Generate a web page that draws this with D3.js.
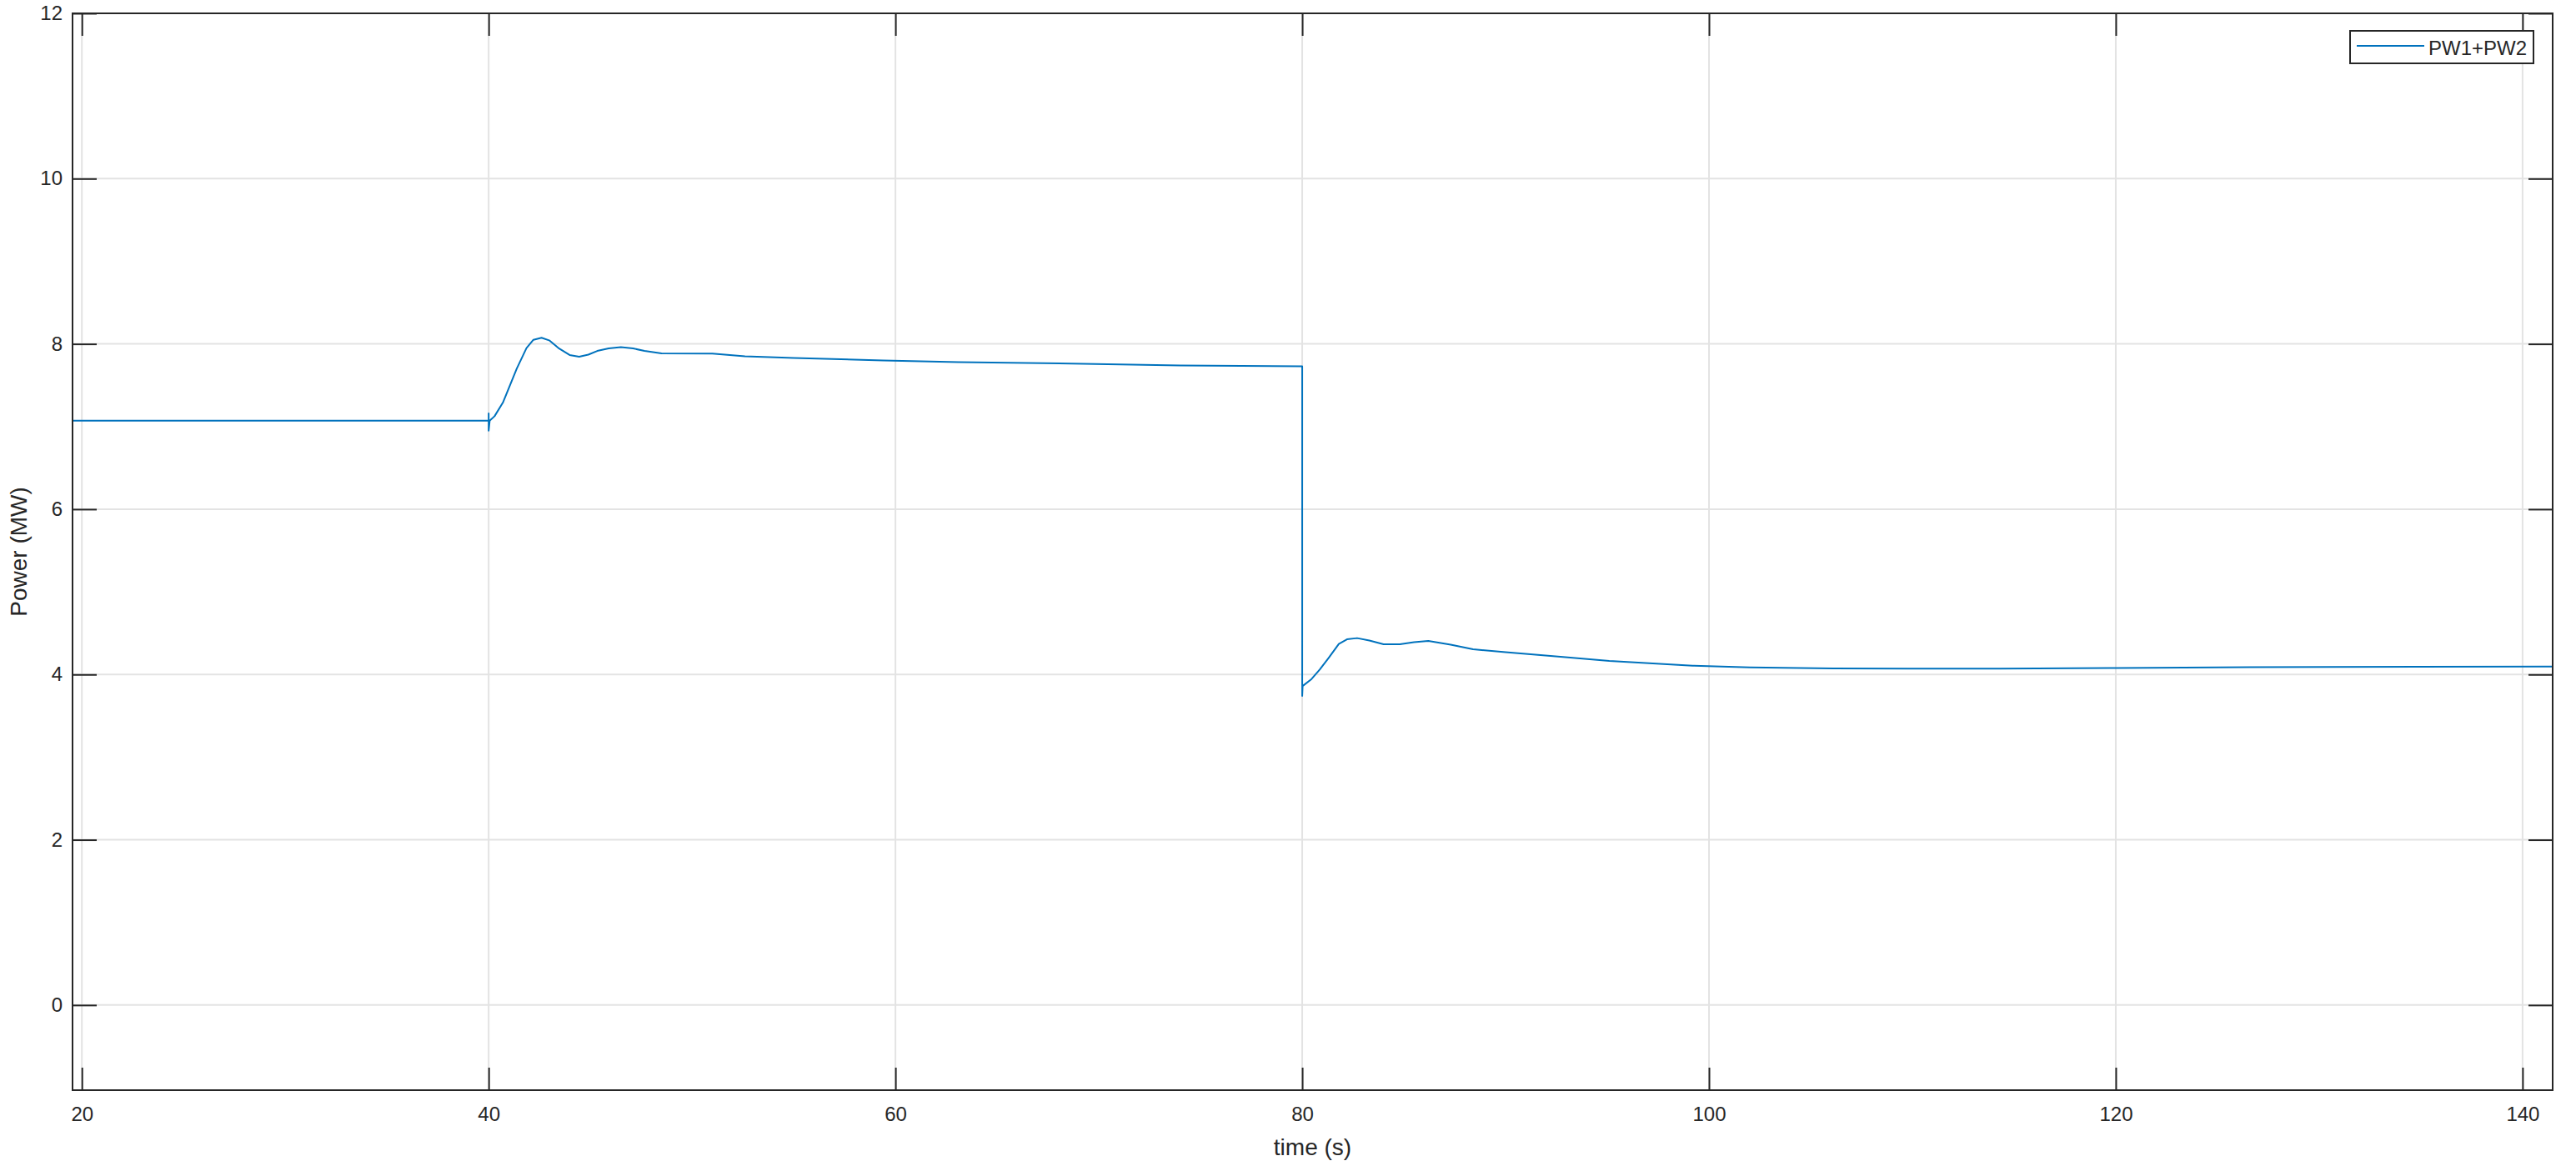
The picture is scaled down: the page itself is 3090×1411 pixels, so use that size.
<!DOCTYPE html>
<html>
<head>
<meta charset="utf-8">
<script src="https://cdn.jsdelivr.net/npm/d3@7"></script>
<style>
  body { margin: 0; background: #fff; }
  text { font-family: "Liberation Sans", Arial, sans-serif; fill: #262626; }
</style>
</head>
<body>
<div id="chart"></div>
<script>
// data (time in s, power in MW)
const timeValues = [19.5, 40, 40, 40, 40.05, 40.29, 40.7, 41.38, 41.86, 42.2, 42.6, 43.0, 43.43, 43.98, 44.45,
    44.9, 45.34, 45.9, 46.5, 47.1, 47.66, 48.5, 51, 52.6, 55, 59.4, 63.1, 69.25, 74, 80,
    80, 80.02, 80.46, 80.86, 81.3, 81.8, 82.2, 82.7, 83.3, 84, 84.8, 85.5, 86.2, 87.3, 88.4, 90, 92.7, 95.1, 99.2, 102, 106.1,
    114.3, 119.7, 126.6, 134.8, 141.5];
const powerValues = [7.07, 7.07, 7.16, 6.95, 7.07, 7.125, 7.29, 7.70, 7.95, 8.05, 8.075, 8.04, 7.95, 7.866, 7.845,
    7.87, 7.915, 7.945, 7.96, 7.945, 7.915, 7.885, 7.883, 7.85, 7.83, 7.80, 7.78, 7.76, 7.74, 7.73,
    3.74, 3.86, 3.945, 4.06, 4.2, 4.37, 4.425, 4.44, 4.41, 4.366, 4.366, 4.39, 4.406, 4.36, 4.305, 4.27, 4.214, 4.164, 4.106, 4.086, 4.073,
    4.07, 4.077, 4.087, 4.094, 4.097];
const xTicks = [20, 40, 60, 80, 100, 120, 140];
const yTicks = [0, 2, 4, 6, 8, 10, 12];
const seriesName = 'PW1+PW2';

const size = { width: 3090, height: 1411, left: 87, right: 3062, top: 16, bottom: 1308 };
const axisColor = '#262626';
const lineColor = '#0072BD';

const data = timeValues.map((t, i) => ({ t: t, p: powerValues[i] }));

const xScale = d3.scaleLinear().domain([19.54, 141.48]).range([size.left, size.right]);
const yScale = d3.scaleLinear().domain([-1.03, 12]).range([size.bottom, size.top]);

const svg = d3.select('#chart').append('svg')
    .attr('width', size.width)
    .attr('height', size.height);

// grid
const grid = svg.append('g').attr('class', 'grid');
grid.selectAll('line.gx').data(xTicks).enter().append('line')
    .attr('x1', d => xScale(d)).attr('x2', d => xScale(d))
    .attr('y1', size.top).attr('y2', size.bottom)
    .style('stroke', '#e3e3e3').style('stroke-width', 2);
grid.selectAll('line.gy').data(yTicks).enter().append('line')
    .attr('x1', size.left).attr('x2', size.right)
    .attr('y1', d => yScale(d)).attr('y2', d => yScale(d))
    .style('stroke', '#e3e3e3').style('stroke-width', 2);

// series
svg.append('clipPath').attr('id', 'plotClip')
    .append('rect')
    .attr('x', size.left).attr('y', size.top)
    .attr('width', size.right - size.left).attr('height', size.bottom - size.top);

svg.append('path')
    .datum(data)
    .attr('clip-path', 'url(#plotClip)')
    .attr('d', d3.line().x(d => xScale(d.t)).y(d => yScale(d.p)))
    .style('fill', 'none')
    .style('stroke', lineColor)
    .style('stroke-width', 2)
    .style('stroke-linejoin', 'round');

// axes, ticks pointing inward on all four sides
function styleAxis(g) {
    g.select('.domain').remove();
    g.selectAll('.tick line').style('stroke', axisColor).style('stroke-width', 2);
    g.selectAll('.tick text')
        .style('font-family', '"Liberation Sans", Arial, sans-serif')
        .style('font-size', '24px')
        .style('fill', axisColor);
}

svg.append('g')
    .attr('transform', 'translate(0,' + size.bottom + ')')
    .call(d3.axisBottom(xScale).tickValues(xTicks).tickSizeInner(-27).tickSizeOuter(0).tickPadding(20))
    .call(styleAxis);
svg.append('g')
    .attr('transform', 'translate(0,' + size.top + ')')
    .call(d3.axisTop(xScale).tickValues(xTicks).tickSizeInner(-27).tickSizeOuter(0).tickFormat(''))
    .call(styleAxis);
svg.append('g')
    .attr('transform', 'translate(' + size.left + ',0)')
    .call(d3.axisLeft(yScale).tickValues(yTicks).tickSizeInner(-29).tickSizeOuter(0).tickPadding(12))
    .call(styleAxis);
svg.append('g')
    .attr('transform', 'translate(' + size.right + ',0)')
    .call(d3.axisRight(yScale).tickValues(yTicks).tickSizeInner(-29).tickSizeOuter(0).tickFormat(''))
    .call(styleAxis);

// box
svg.append('rect')
    .attr('x', size.left).attr('y', size.top)
    .attr('width', size.right - size.left).attr('height', size.bottom - size.top)
    .style('fill', 'none').style('stroke', axisColor).style('stroke-width', 2);

// axis labels
svg.append('text')
    .attr('x', (size.left + size.right) / 2)
    .attr('y', 1386)
    .attr('text-anchor', 'middle')
    .style('font-size', '28px')
    .text('time (s)');
svg.append('text')
    .attr('transform', 'translate(32,' + ((size.top + size.bottom) / 2) + ') rotate(-90)')
    .attr('text-anchor', 'middle')
    .style('font-size', '28px')
    .text('Power (MW)');

// legend
const legend = svg.append('g').attr('class', 'legend');
legend.append('rect')
    .attr('x', 2819).attr('y', 37)
    .attr('width', 220).attr('height', 39)
    .style('fill', '#fff').style('stroke', axisColor).style('stroke-width', 2);
legend.append('line')
    .attr('x1', 2827).attr('x2', 2908)
    .attr('y1', 55).attr('y2', 55)
    .style('stroke', lineColor).style('stroke-width', 2);
legend.append('text')
    .attr('x', 2913).attr('y', 66)
    .style('font-size', '24px')
    .text(seriesName);
</script>
</body>
</html>
